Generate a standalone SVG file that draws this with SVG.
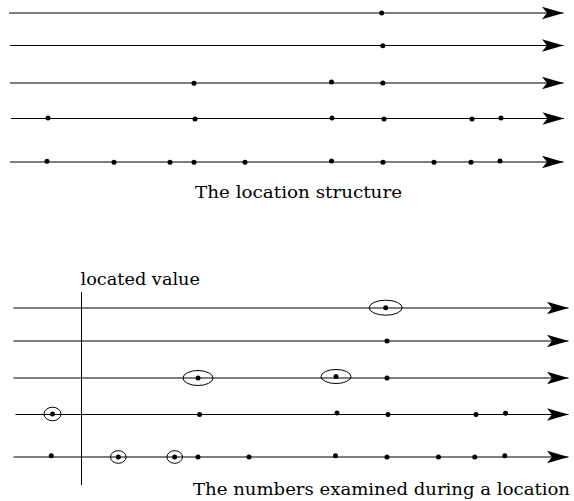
<svg xmlns="http://www.w3.org/2000/svg" width="574" height="501" viewBox="0 0 574 501">
<style>
.ln{stroke:#000;stroke-width:1.1;fill:none;marker-end:url(#ah)}
.vl{stroke:#000;stroke-width:1;fill:none}
.pt{fill:#000}
.ring{fill:none;stroke:#000;stroke-width:1}
.tx{font-family:"DejaVu Serif","Liberation Serif",serif;font-size:17px;fill:#000}
</style>
<defs>
<marker id="ah" markerUnits="userSpaceOnUse" viewBox="-22 -7 23 14" refX="0" refY="0" markerWidth="23" markerHeight="14" orient="auto">
<path d="M0,0 L-21.5,-6.3 L-16.5,0 L-21.5,6.3 Z" fill="#000"/>
</marker>
</defs>
<rect width="574" height="501" fill="#fff"/>
<g id="connectors">
<line class="ln" x1="9" y1="13" x2="563.5" y2="13"/>
<line class="ln" x1="10" y1="45.5" x2="563.5" y2="45.5"/>
<line class="ln" x1="10" y1="83" x2="563.5" y2="83"/>
<line class="ln" x1="11" y1="118.5" x2="564" y2="118.5"/>
<line class="ln" x1="10" y1="162" x2="563.5" y2="162"/>
<line class="ln" x1="13.5" y1="308" x2="568.5" y2="308"/>
<line class="ln" x1="13.5" y1="341" x2="568.5" y2="341"/>
<line class="ln" x1="13.5" y1="378" x2="568.5" y2="378"/>
<line class="ln" x1="15.5" y1="414.5" x2="568.5" y2="414.5"/>
<line class="ln" x1="13.5" y1="457" x2="568.5" y2="457"/>
<line class="vl" x1="81.5" y1="292" x2="81.5" y2="485"/>
</g>
<g id="top-structure">
<circle class="pt" cx="381.7" cy="13" r="2.5"/>
<circle class="pt" cx="382.8" cy="45.7" r="2.5"/>
<circle class="pt" cx="194" cy="83.3" r="2.5"/>
<circle class="pt" cx="331.5" cy="82" r="2.5"/>
<circle class="pt" cx="382.8" cy="83" r="2.5"/>
<circle class="pt" cx="48" cy="118" r="2.5"/>
<circle class="pt" cx="195" cy="119" r="2.5"/>
<circle class="pt" cx="332" cy="118" r="2.5"/>
<circle class="pt" cx="384" cy="119" r="2.5"/>
<circle class="pt" cx="472" cy="119" r="2.5"/>
<circle class="pt" cx="501" cy="118" r="2.5"/>
<circle class="pt" cx="47" cy="161.3" r="2.5"/>
<circle class="pt" cx="114" cy="162.3" r="2.5"/>
<circle class="pt" cx="170" cy="162.3" r="2.5"/>
<circle class="pt" cx="194" cy="162.3" r="2.5"/>
<circle class="pt" cx="245" cy="162.3" r="2.5"/>
<circle class="pt" cx="331.5" cy="161" r="2.5"/>
<circle class="pt" cx="383" cy="162.3" r="2.5"/>
<circle class="pt" cx="434" cy="162.3" r="2.5"/>
<circle class="pt" cx="471" cy="162.3" r="2.5"/>
<circle class="pt" cx="500" cy="161" r="2.5"/>
</g>
<g id="caption-top">
<text class="tx" x="195" y="198" textLength="207" lengthAdjust="spacingAndGlyphs">The location structure</text>
</g>
<g id="label-located">
<text class="tx" x="80.5" y="285" textLength="119.5" lengthAdjust="spacingAndGlyphs">located value</text>
</g>
<g id="bottom-search">
<circle class="pt" cx="385.7" cy="307.7" r="2.5"/>
<ellipse class="ring" cx="385.7" cy="307.7" rx="16.5" ry="7.5"/>
<circle class="pt" cx="387" cy="341" r="2.5"/>
<circle class="pt" cx="198" cy="378" r="2.5"/>
<ellipse class="ring" cx="198" cy="378" rx="15" ry="7.5"/>
<circle class="pt" cx="336" cy="376.5" r="2.5"/>
<ellipse class="ring" cx="336" cy="376.5" rx="15" ry="7"/>
<circle class="pt" cx="387" cy="378" r="2.5"/>
<circle class="pt" cx="52.5" cy="414" r="2.5"/>
<ellipse class="ring" cx="52.5" cy="414" rx="8.5" ry="6.8"/>
<circle class="pt" cx="199.6" cy="414.5" r="2.5"/>
<circle class="pt" cx="337" cy="413" r="2.5"/>
<circle class="pt" cx="388" cy="414.5" r="2.5"/>
<circle class="pt" cx="476" cy="414.5" r="2.5"/>
<circle class="pt" cx="505.5" cy="413.3" r="2.5"/>
<circle class="pt" cx="51.3" cy="455.8" r="2.5"/>
<circle class="pt" cx="118.3" cy="457" r="2.5"/>
<ellipse class="ring" cx="118.3" cy="457" rx="7.8" ry="6.3"/>
<circle class="pt" cx="174.7" cy="457" r="2.5"/>
<ellipse class="ring" cx="174.7" cy="457" rx="7.8" ry="6.3"/>
<circle class="pt" cx="198" cy="457" r="2.5"/>
<circle class="pt" cx="249" cy="457" r="2.5"/>
<circle class="pt" cx="335.5" cy="455.8" r="2.5"/>
<circle class="pt" cx="387" cy="457" r="2.5"/>
<circle class="pt" cx="438.5" cy="457" r="2.5"/>
<circle class="pt" cx="474.7" cy="457" r="2.5"/>
<circle class="pt" cx="504.8" cy="455.8" r="2.5"/>
</g>
<g id="caption-bottom">
<text class="tx" x="193" y="495" textLength="377" lengthAdjust="spacingAndGlyphs">The numbers examined during a location</text>
</g>
</svg>
